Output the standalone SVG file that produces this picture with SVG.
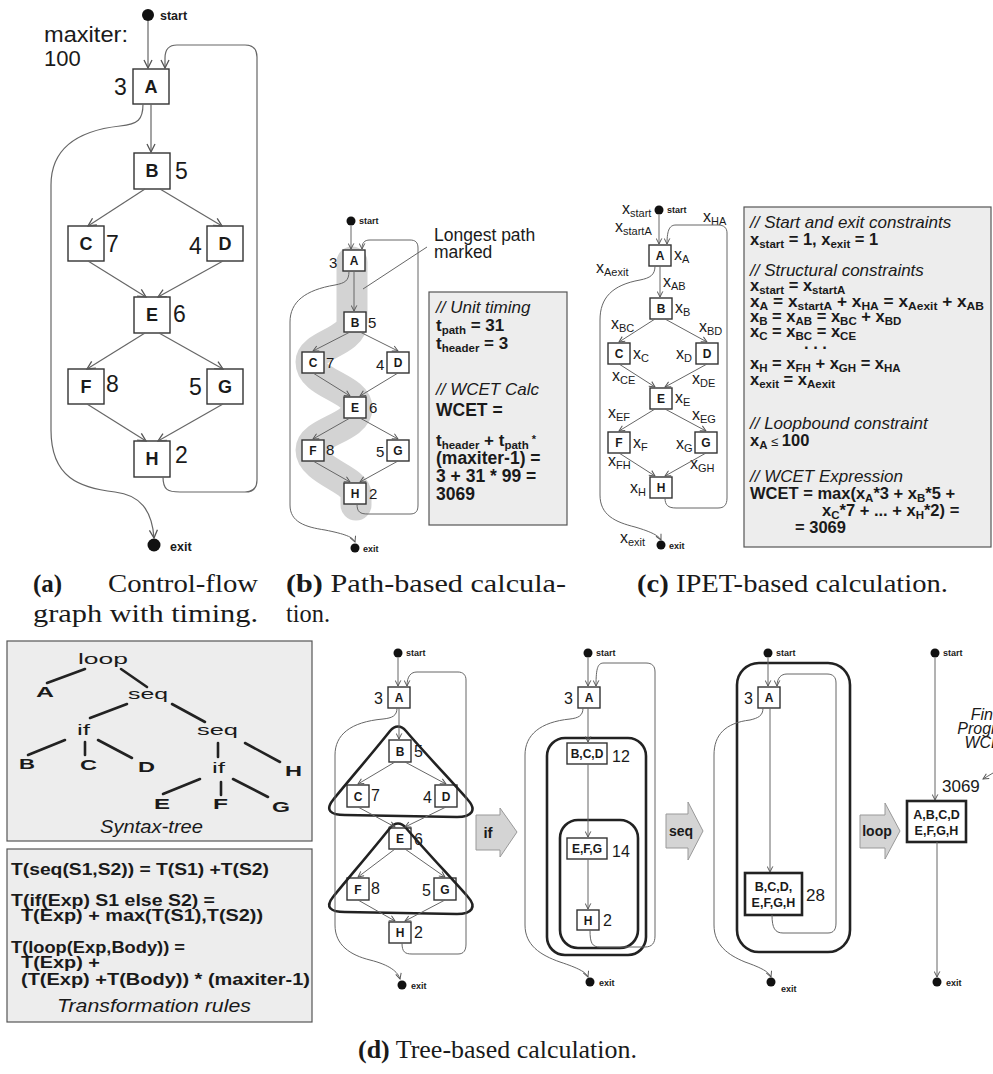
<svg xmlns="http://www.w3.org/2000/svg" width="993" height="1074" viewBox="0 0 993 1074">
<defs>
<marker id="arr" viewBox="0 0 10 10" refX="9" refY="5" markerWidth="7" markerHeight="7" orient="auto" markerUnits="userSpaceOnUse"><path d="M1,1 L9,5 L1,9" fill="none" stroke="#555" stroke-width="1.4"/></marker>
<marker id="arrL" viewBox="0 0 10 10" refX="9" refY="5" markerWidth="10" markerHeight="10" orient="auto" markerUnits="userSpaceOnUse"><path d="M1,1 L9,5 L1,9" fill="none" stroke="#555" stroke-width="1.3"/></marker>
<style>
text{font-family:"Liberation Sans",Arial,sans-serif;fill:#1a1a1a}
.box{fill:#fff;stroke:#333;stroke-width:1.4}
.tbox{fill:#fff;stroke:#222;stroke-width:2.6}
.c{fill:none;stroke:#666;stroke-width:1}
.ca{fill:none;stroke:#666;stroke-width:1;marker-end:url(#arr)}
.cL{fill:none;stroke:#666;stroke-width:1.2;marker-end:url(#arrL)}
.dot{fill:#111}
.panel{fill:#ededed;stroke:#555;stroke-width:1.2}
.hull{fill:none;stroke:#222;stroke-width:2.6}
.big{fill:#d4d4d4;stroke:#999;stroke-width:1}
.nb{font-weight:bold;text-anchor:middle}
.b{font-weight:bold}
.it{font-style:italic}
.se{font-weight:bold;font-size:9px}
.cap{font-family:"Liberation Serif","Times New Roman",serif;font-size:25px}
</style>
</defs>

<!-- Panel (a) -->
<g id="panel-a">
<text x="44" y="42" font-size="22" textLength="84" lengthAdjust="spacingAndGlyphs">maxiter:</text>
<text x="44" y="66" font-size="22">100</text>
<g id="a-start"><circle class="dot" cx="148" cy="15" r="6"/><text x="160" y="20" font-size="12.5" class="b">start</text></g>
<g id="a-exit"><circle class="dot" cx="154" cy="545" r="6.5"/><text x="170" y="551" font-size="12.5" class="b">exit</text></g>
<g id="a-A"><rect class="box" x="133" y="69" width="36" height="35"/><text class="nb" x="151" y="93" font-size="18">A</text><text x="114" y="95" font-size="23">3</text></g>
<g id="a-B"><rect class="box" x="134" y="153" width="36" height="36"/><text class="nb" x="152" y="177" font-size="18">B</text><text x="175" y="179" font-size="23">5</text></g>
<g id="a-C"><rect class="box" x="68" y="226" width="36" height="35"/><text class="nb" x="86" y="250" font-size="18">C</text><text x="106" y="252" font-size="23">7</text></g>
<g id="a-D"><rect class="box" x="207" y="226" width="36" height="35"/><text class="nb" x="225" y="250" font-size="18">D</text><text x="189" y="254" font-size="23">4</text></g>
<g id="a-E"><rect class="box" x="134" y="297" width="36" height="36"/><text class="nb" x="152" y="321" font-size="18">E</text><text x="173" y="322" font-size="23">6</text></g>
<g id="a-F"><rect class="box" x="68" y="369" width="36" height="35"/><text class="nb" x="86" y="393" font-size="18">F</text><text x="106" y="392" font-size="23">8</text></g>
<g id="a-G"><rect class="box" x="207" y="369" width="36" height="35"/><text class="nb" x="225" y="393" font-size="18">G</text><text x="189" y="395" font-size="23">5</text></g>
<g id="a-H"><rect class="box" x="134" y="441" width="36" height="36"/><text class="nb" x="152" y="465" font-size="18">H</text><text x="175" y="463" font-size="23">2</text></g>
</g>

<!-- Panel (b) -->
<g id="panel-b">
<path id="b-longest" d="M352,262 L352,322 C352,342 311,345 311,362 C311,384 357,388 357,408 C357,428 311,432 311,450 C311,470 356,480 356,494 L356,505" fill="none" stroke="#d3d3d3" stroke-width="31" stroke-linecap="round" stroke-linejoin="round"/>
<g id="b-start"><circle class="dot" cx="351" cy="221" r="4.5"/><text x="359" y="224" class="se">start</text></g>
<g id="b-exit"><circle class="dot" cx="355" cy="548" r="4.5"/><text x="363" y="552" class="se">exit</text></g>
<g id="b-A"><rect class="box" x="343" y="250" width="22" height="21"/><text class="nb" x="354" y="265" font-size="12">A</text><text x="329" y="268" font-size="15">3</text></g>
<g id="b-B"><rect class="box" x="344" y="312" width="22" height="20"/><text class="nb" x="355" y="327" font-size="12">B</text><text x="368" y="328" font-size="15">5</text></g>
<g id="b-C"><rect class="box" x="302" y="352" width="22" height="21"/><text class="nb" x="313" y="367" font-size="12">C</text><text x="326" y="368" font-size="15">7</text></g>
<g id="b-D"><rect class="box" x="387" y="352" width="22" height="21"/><text class="nb" x="398" y="367" font-size="12">D</text><text x="376" y="370" font-size="15">4</text></g>
<g id="b-E"><rect class="box" x="344" y="397" width="22" height="21"/><text class="nb" x="355" y="412" font-size="12">E</text><text x="369" y="413" font-size="15">6</text></g>
<g id="b-F"><rect class="box" x="302" y="440" width="22" height="21"/><text class="nb" x="313" y="455" font-size="12">F</text><text x="326" y="455" font-size="15">8</text></g>
<g id="b-G"><rect class="box" x="387" y="440" width="22" height="21"/><text class="nb" x="398" y="455" font-size="12">G</text><text x="376" y="457" font-size="15">5</text></g>
<g id="b-H"><rect class="box" x="344" y="483" width="22" height="21"/><text class="nb" x="355" y="498" font-size="12">H</text><text x="369" y="499" font-size="15">2</text></g>
<g id="b-note"><text x="434" y="241" font-size="17.5">Longest path</text><text x="434" y="258" font-size="17.5">marked</text></g>
<g id="b-calc">
<rect class="panel" x="429" y="292" width="138" height="233"/>
<text x="436" y="313" font-size="17" class="it">// Unit timing</text>
<text x="436" y="331" font-size="17" class="b">t<tspan font-size="11.5" dy="3">path</tspan><tspan dy="-3"> = 31</tspan></text>
<text x="436" y="349" font-size="17" class="b">t<tspan font-size="11.5" dy="3">header</tspan><tspan dy="-3"> = 3</tspan></text>
<text x="436" y="395" font-size="17" class="it">// WCET Calc</text>
<text x="436" y="416" font-size="17.5" class="b">WCET =</text>
<text x="436" y="446" font-size="17" class="b">t<tspan font-size="11.5" dy="3">header</tspan><tspan dy="-3"> + t</tspan><tspan font-size="11.5" dy="3">path</tspan><tspan dy="-6" font-size="11"> *</tspan></text>
<text x="436" y="464" font-size="17.5" class="b">(maxiter-1) =</text>
<text x="436" y="482" font-size="17.5" class="b">3 + 31 * 99 =</text>
<text x="436" y="500" font-size="17.5" class="b">3069</text>
</g>
</g>

<!-- Panel (c) -->
<g id="panel-c">
<g id="c-start"><circle class="dot" cx="659" cy="210" r="4.5"/><text x="667" y="213" class="se">start</text></g>
<g id="c-exit"><circle class="dot" cx="661" cy="545" r="4.5"/><text x="669" y="549" class="se">exit</text></g>
<g id="c-A"><rect class="box" x="649" y="245" width="22" height="21"/><text class="nb" x="660" y="260" font-size="12">A</text></g>
<g id="c-B"><rect class="box" x="650" y="298" width="22" height="21"/><text class="nb" x="661" y="313" font-size="12">B</text></g>
<g id="c-C"><rect class="box" x="608" y="343" width="22" height="21"/><text class="nb" x="619" y="358" font-size="12">C</text></g>
<g id="c-D"><rect class="box" x="696" y="343" width="22" height="21"/><text class="nb" x="707" y="358" font-size="12">D</text></g>
<g id="c-E"><rect class="box" x="650" y="388" width="22" height="21"/><text class="nb" x="661" y="403" font-size="12">E</text></g>
<g id="c-F"><rect class="box" x="608" y="432" width="22" height="21"/><text class="nb" x="619" y="447" font-size="12">F</text></g>
<g id="c-G"><rect class="box" x="695" y="432" width="22" height="21"/><text class="nb" x="706" y="447" font-size="12">G</text></g>
<g id="c-H"><rect class="box" x="650" y="477" width="22" height="21"/><text class="nb" x="661" y="492" font-size="12">H</text></g>
<g id="c-vars" font-size="16">
<text x="622" y="214">x<tspan font-size="11" dy="3">start</tspan></text>
<text x="615" y="232">x<tspan font-size="11" dy="3">startA</tspan></text>
<text x="703" y="222">x<tspan font-size="11" dy="3">HA</tspan></text>
<text x="674" y="260">x<tspan font-size="11" dy="3">A</tspan></text>
<text x="596" y="273">x<tspan font-size="11" dy="3">Aexit</tspan></text>
<text x="663" y="287">x<tspan font-size="11" dy="3">AB</tspan></text>
<text x="675" y="313">x<tspan font-size="11" dy="3">B</tspan></text>
<text x="611" y="329">x<tspan font-size="11" dy="3">BC</tspan></text>
<text x="699" y="332">x<tspan font-size="11" dy="3">BD</tspan></text>
<text x="633" y="359">x<tspan font-size="11" dy="3">C</tspan></text>
<text x="676" y="359">x<tspan font-size="11" dy="3">D</tspan></text>
<text x="612" y="381">x<tspan font-size="11" dy="3">CE</tspan></text>
<text x="692" y="384">x<tspan font-size="11" dy="3">DE</tspan></text>
<text x="675" y="403">x<tspan font-size="11" dy="3">E</tspan></text>
<text x="608" y="418">x<tspan font-size="11" dy="3">EF</tspan></text>
<text x="692" y="420">x<tspan font-size="11" dy="3">EG</tspan></text>
<text x="633" y="448">x<tspan font-size="11" dy="3">F</tspan></text>
<text x="676" y="449">x<tspan font-size="11" dy="3">G</tspan></text>
<text x="608" y="466">x<tspan font-size="11" dy="3">FH</tspan></text>
<text x="690" y="469">x<tspan font-size="11" dy="3">GH</tspan></text>
<text x="630" y="493">x<tspan font-size="11" dy="3">H</tspan></text>
<text x="620" y="543">x<tspan font-size="11" dy="3">exit</tspan></text>
</g>
<g id="c-ilp" font-size="16.5">
<rect class="panel" x="744" y="207" width="247" height="340"/>
<text x="750" y="228" class="it" font-size="17">// Start and exit constraints</text>
<text x="750" y="245" class="b">x<tspan font-size="11.5" dy="3">start</tspan><tspan dy="-3"> = 1, x</tspan><tspan font-size="11.5" dy="3">exit</tspan><tspan dy="-3"> = 1</tspan></text>
<text x="750" y="276" class="it" font-size="17">// Structural constraints</text>
<text x="750" y="291" class="b">x<tspan font-size="11.5" dy="3">start</tspan><tspan dy="-3"> = x</tspan><tspan font-size="11.5" dy="3">startA</tspan></text>
<text x="750" y="307" class="b" textLength="234" lengthAdjust="spacingAndGlyphs">x<tspan font-size="11.5" dy="3">A</tspan><tspan dy="-3"> = x</tspan><tspan font-size="11.5" dy="3">startA</tspan><tspan dy="-3"> + x</tspan><tspan font-size="11.5" dy="3">HA</tspan><tspan dy="-3"> = x</tspan><tspan font-size="11.5" dy="3">Aexit</tspan><tspan dy="-3"> + x</tspan><tspan font-size="11.5" dy="3">AB</tspan></text>
<text x="750" y="322" class="b">x<tspan font-size="11.5" dy="3">B</tspan><tspan dy="-3"> = x</tspan><tspan font-size="11.5" dy="3">AB</tspan><tspan dy="-3"> = x</tspan><tspan font-size="11.5" dy="3">BC</tspan><tspan dy="-3"> + x</tspan><tspan font-size="11.5" dy="3">BD</tspan></text>
<text x="750" y="337" class="b">x<tspan font-size="11.5" dy="3">C</tspan><tspan dy="-3"> = x</tspan><tspan font-size="11.5" dy="3">BC</tspan><tspan dy="-3"> = x</tspan><tspan font-size="11.5" dy="3">CE</tspan></text>
<text x="804" y="349" class="b">. . .</text>
<text x="750" y="369" class="b">x<tspan font-size="11.5" dy="3">H</tspan><tspan dy="-3"> = x</tspan><tspan font-size="11.5" dy="3">FH</tspan><tspan dy="-3"> + x</tspan><tspan font-size="11.5" dy="3">GH</tspan><tspan dy="-3"> = x</tspan><tspan font-size="11.5" dy="3">HA</tspan></text>
<text x="750" y="385" class="b">x<tspan font-size="11.5" dy="3">exit</tspan><tspan dy="-3"> = x</tspan><tspan font-size="11.5" dy="3">Aexit</tspan></text>
<text x="750" y="429" class="it" font-size="17">// Loopbound constraint</text>
<text x="750" y="446" class="b">x<tspan font-size="11.5" dy="3">A</tspan><tspan dy="-3" font-size="13" font-weight="normal"> ≤ </tspan><tspan>100</tspan></text>
<text x="750" y="482" class="it" font-size="17">// WCET Expression</text>
<text x="750" y="499" class="b">WCET = max(x<tspan font-size="11.5" dy="3">A</tspan><tspan dy="-3">*3 + x</tspan><tspan font-size="11.5" dy="3">B</tspan><tspan dy="-3">*5 +</tspan></text>
<text x="822" y="516" class="b">x<tspan font-size="11.5" dy="3">C</tspan><tspan dy="-3">*7 + ... + x</tspan><tspan font-size="11.5" dy="3">H</tspan><tspan dy="-3">*2) =</tspan></text>
<text x="795" y="533" class="b">= 3069</text>
</g>
</g>

<!-- Captions -->
<g id="captions">
<text class="cap" x="33" y="592"><tspan font-weight="bold">(a)</tspan></text>
<text class="cap" x="108" y="592" textLength="150" lengthAdjust="spacingAndGlyphs">Control-flow</text>
<text class="cap" x="33" y="622" textLength="225" lengthAdjust="spacingAndGlyphs">graph with timing.</text>
<text class="cap" x="286" y="592" textLength="280" lengthAdjust="spacingAndGlyphs"><tspan font-weight="bold">(b)</tspan> Path-based  calcula-</text>
<text class="cap" x="286" y="622" textLength="44" lengthAdjust="spacingAndGlyphs">tion.</text>
<text class="cap" x="637" y="592" textLength="311" lengthAdjust="spacingAndGlyphs"><tspan font-weight="bold">(c)</tspan> IPET-based calculation.</text>
<text class="cap" x="358" y="1058" textLength="279" lengthAdjust="spacingAndGlyphs"><tspan font-weight="bold">(d)</tspan> Tree-based calculation.</text>
</g>

<!-- Syntax tree -->
<g id="syntax-tree">
<rect class="panel" x="7" y="641" width="305" height="200"/>
<g stroke="#222" stroke-width="2.6" stroke-linecap="round">
<line x1="85" y1="669" x2="47" y2="683"/>
<line x1="121" y1="669" x2="147" y2="687"/>
<line x1="127" y1="704" x2="90" y2="718"/>
<line x1="172" y1="704" x2="205" y2="722"/>
<line x1="65" y1="740" x2="28" y2="755"/>
<line x1="85" y1="742" x2="85" y2="755"/>
<line x1="98" y1="740" x2="132" y2="758"/>
<line x1="218" y1="743" x2="218" y2="757"/>
<line x1="245" y1="743" x2="280" y2="762"/>
<line x1="200" y1="779" x2="163" y2="794"/>
<line x1="221" y1="782" x2="221" y2="795"/>
<line x1="233" y1="779" x2="268" y2="797"/>
</g>
<g font-size="15.5">
<text x="78" y="664" textLength="50" lengthAdjust="spacingAndGlyphs">loop</text>
<text x="36" y="697" class="b" textLength="18" lengthAdjust="spacingAndGlyphs">A</text>
<text x="128" y="699" textLength="40" lengthAdjust="spacingAndGlyphs">seq</text>
<text x="77" y="735" textLength="13" lengthAdjust="spacingAndGlyphs">if</text>
<text x="197" y="735" textLength="41" lengthAdjust="spacingAndGlyphs">seq</text>
<text x="19" y="769" class="b" textLength="16" lengthAdjust="spacingAndGlyphs">B</text>
<text x="80" y="770" class="b" textLength="17" lengthAdjust="spacingAndGlyphs">C</text>
<text x="138" y="772" class="b" textLength="17" lengthAdjust="spacingAndGlyphs">D</text>
<text x="212" y="773" textLength="13" lengthAdjust="spacingAndGlyphs">if</text>
<text x="285" y="776" class="b" textLength="17" lengthAdjust="spacingAndGlyphs">H</text>
<text x="154" y="809" class="b" textLength="16" lengthAdjust="spacingAndGlyphs">E</text>
<text x="213" y="809" class="b" textLength="15" lengthAdjust="spacingAndGlyphs">F</text>
<text x="272" y="812" class="b" textLength="18" lengthAdjust="spacingAndGlyphs">G</text>
</g>
<text x="100" y="833" font-size="17.5" class="it" textLength="103" lengthAdjust="spacingAndGlyphs">Syntax-tree</text>
</g>

<!-- Transformation rules -->
<g id="rules" font-size="16.5">
<rect class="panel" x="7" y="849" width="305" height="173"/>
<text x="11" y="875" class="b" textLength="258" lengthAdjust="spacingAndGlyphs">T(seq(S1,S2)) = T(S1) +T(S2)</text>
<text x="11" y="906" class="b" textLength="204" lengthAdjust="spacingAndGlyphs">T(if(Exp) S1 else S2) =</text>
<text x="21" y="921" class="b" textLength="242" lengthAdjust="spacingAndGlyphs">T(Exp) + max(T(S1),T(S2))</text>
<text x="11" y="953" class="b" textLength="174" lengthAdjust="spacingAndGlyphs">T(loop(Exp,Body)) =</text>
<text x="21" y="968" class="b" textLength="79" lengthAdjust="spacingAndGlyphs">T(Exp) +</text>
<text x="21" y="985" class="b" textLength="289" lengthAdjust="spacingAndGlyphs">(T(Exp) +T(Body)) * (maxiter-1)</text>
<text x="57" y="1012" class="it" font-size="18" textLength="194" lengthAdjust="spacingAndGlyphs">Transformation rules</text>
</g>

<!-- Panel (d) step 1 -->
<g id="panel-d1">
<g id="d1-start"><circle class="dot" cx="398" cy="653" r="4.5"/><text x="406" y="656" class="se">start</text></g>
<g id="d1-exit"><circle class="dot" cx="402" cy="985" r="4.5"/><text x="411" y="989" class="se">exit</text></g>
<g id="d1-A"><rect class="box" x="388" y="687" width="22" height="21"/><text class="nb" x="399" y="702" font-size="12">A</text><text x="374" y="704" font-size="16">3</text></g>
<g id="d1-B"><rect class="box" x="389" y="740" width="22" height="22"/><text class="nb" x="400" y="756" font-size="12">B</text><text x="414" y="757" font-size="16">5</text></g>
<g id="d1-C"><rect class="box" x="347" y="785" width="22" height="22"/><text class="nb" x="358" y="801" font-size="12">C</text><text x="371" y="801" font-size="16">7</text></g>
<g id="d1-D"><rect class="box" x="435" y="785" width="22" height="22"/><text class="nb" x="446" y="801" font-size="12">D</text><text x="423" y="803" font-size="16">4</text></g>
<g id="d1-E"><rect class="box" x="389" y="828" width="22" height="21"/><text class="nb" x="400" y="843" font-size="12">E</text><text x="414" y="845" font-size="16">6</text></g>
<g id="d1-F"><rect class="box" x="347" y="878" width="22" height="22"/><text class="nb" x="358" y="894" font-size="12">F</text><text x="371" y="894" font-size="16">8</text></g>
<g id="d1-G"><rect class="box" x="434" y="878" width="22" height="22"/><text class="nb" x="445" y="894" font-size="12">G</text><text x="422" y="896" font-size="16">5</text></g>
<g id="d1-H"><rect class="box" x="389" y="922" width="22" height="21"/><text class="nb" x="400" y="937" font-size="12">H</text><text x="414" y="938" font-size="16">2</text></g>
<path id="d1-if1" class="hull" d="M390,731 C375,750 345,785 333,800 C325,810 330,815 345,815 L457,817 C472,817 477,810 468,800 C455,785 422,750 406,731 C401,725 395,725 390,731 Z"/>
<path id="d1-if2" class="hull" d="M390,828 C375,847 345,882 333,897 C325,907 330,912 345,912 L457,914 C472,914 477,907 468,897 C455,882 422,847 406,828 C401,822 395,822 390,828 Z"/>
<g id="step-if"><polygon class="big" points="476,815 500,815 500,808 517,832 500,857 500,850 476,850"/><text x="488" y="838" class="nb" font-size="15">if</text></g>
</g>

<!-- Panel (d) step 2 -->
<g id="panel-d2">
<g id="d2-start"><circle class="dot" cx="588" cy="653" r="4.5"/><text x="596" y="656" class="se">start</text></g>
<g id="d2-exit"><circle class="dot" cx="590" cy="982" r="4.5"/><text x="599" y="986" class="se">exit</text></g>
<g id="d2-A"><rect class="box" x="578" y="687" width="22" height="21"/><text class="nb" x="589" y="702" font-size="12">A</text><text x="564" y="704" font-size="16">3</text></g>
<g id="d2-BCD"><rect class="box" x="567" y="743" width="40" height="21"/><text class="nb" x="587" y="758" font-size="12">B,C,D</text><text x="612" y="762" font-size="16">12</text></g>
<g id="d2-EFG"><rect class="box" x="567" y="838" width="40" height="21"/><text class="nb" x="587" y="853" font-size="12">E,F,G</text><text x="612" y="857" font-size="16">14</text></g>
<g id="d2-H"><rect class="box" x="577" y="910" width="22" height="20"/><text class="nb" x="588" y="925" font-size="12">H</text><text x="603" y="926" font-size="16">2</text></g>
<rect id="d2-seq1" class="hull" x="547" y="738" width="99" height="217" rx="18"/>
<rect id="d2-seq2" class="hull" x="560" y="820" width="78" height="128" rx="18"/>
<g id="step-seq"><polygon class="big" points="666,814 688,814 688,802 703,831 688,860 688,848 666,848"/><text x="681" y="836" class="nb" font-size="14">seq</text></g>
</g>

<!-- Panel (d) step 3 -->
<g id="panel-d3">
<g id="d3-start"><circle class="dot" cx="768" cy="653" r="4.5"/><text x="776" y="656" class="se">start</text></g>
<g id="d3-exit"><circle class="dot" cx="771" cy="982" r="4.5"/><text x="781" y="992" class="se">exit</text></g>
<g id="d3-A"><rect class="box" x="758" y="687" width="22" height="21"/><text class="nb" x="769" y="702" font-size="12">A</text><text x="744" y="704" font-size="16">3</text></g>
<g id="d3-BH"><rect class="tbox" x="745" y="873" width="57" height="42"/><text class="nb" x="773.5" y="891" font-size="12.5">B,C,D,</text><text class="nb" x="773.5" y="907" font-size="12.5">E,F,G,H</text><text x="806" y="901" font-size="17">28</text></g>
<rect id="d3-loop" class="hull" x="737" y="663" width="113" height="289" rx="22"/>
<g id="step-loop"><polygon class="big" points="860,815 885,815 885,803 900,831 885,859 885,848 860,848"/><text x="877" y="836" class="nb" font-size="14">loop</text></g>
</g>

<!-- Panel (d) step 4 -->
<g id="panel-d4">
<g id="d4-start"><circle class="dot" cx="935" cy="653" r="4.5"/><text x="943" y="656" class="se">start</text></g>
<g id="d4-exit"><circle class="dot" cx="937" cy="982" r="4.5"/><text x="946" y="986" class="se">exit</text></g>
<g id="d4-all"><rect class="tbox" x="907" y="801" width="59" height="41"/><text class="nb" x="936.5" y="819" font-size="12.5">A,B,C,D</text><text class="nb" x="936.5" y="835" font-size="12.5">E,F,G,H</text></g>
<text x="942" y="792" font-size="17">3069</text>
<g id="d4-note" class="it" font-size="16" text-anchor="middle"><text x="988" y="720">Final</text><text x="988" y="734">Program</text><text x="988" y="748">WCET</text></g>
</g>

<!-- Connectors -->
<g id="connectors">
<g id="edges-a">
<path class="cL" d="M148,21 L148,68"/>
<path class="cL" d="M151,104 L151,152"/>
<path class="cL" d="M145,189 L88,226"/>
<path class="cL" d="M160,189 L222,226"/>
<path class="cL" d="M88,261 L146,297"/>
<path class="cL" d="M223,261 L158,297"/>
<path class="cL" d="M145,333 L87,369"/>
<path class="cL" d="M159,333 L223,369"/>
<path class="cL" d="M87,404 L146,441"/>
<path class="cL" d="M223,404 L158,441"/>
<path class="cL" d="M143,104 C143,120 138,124 120,126 C75,131 51,150 51,185 L51,430 C51,478 80,488 115,492 C140,495 152,510 154,538"/>
<path class="cL" d="M163,477 C163,490 168,492 180,492 L245,492 C253,492 257,488 257,480 L257,57 C257,49 253,45 245,45 L177,45 C169,45 165,50 165,58 L165,68"/>
</g>
<g id="edges-b">
<path class="ca" d="M351,226 L351,249"/>
<path class="ca" d="M354,271 L354,311"/>
<path class="ca" d="M350,332 L313,351"/>
<path class="ca" d="M360,332 L398,351"/>
<path class="ca" d="M313,373 L350,396"/>
<path class="ca" d="M398,373 L360,396"/>
<path class="ca" d="M350,418 L313,439"/>
<path class="ca" d="M360,418 L398,439"/>
<path class="ca" d="M313,461 L350,482"/>
<path class="ca" d="M398,461 L360,482"/>
<path class="ca" d="M349,271 C349,281 345,283 335,285 C305,290 290,302 290,322 L290,505 C290,522 305,527 325,530 C345,534 353,537 355,542"/>
<path class="ca" d="M357,504 C357,512 360,514 368,514 L410,514 C416,514 418,511 418,505 L418,248 C418,242 415,240 410,240 L370,240 C364,240 362,243 362,249"/>
<path class="c" d="M427,247 L363,289"/>
</g>
<g id="edges-c">
<path class="ca" d="M659,215 L659,244"/>
<path class="ca" d="M660,266 L660,297"/>
<path class="ca" d="M655,319 L619,342"/>
<path class="ca" d="M665,319 L707,342"/>
<path class="ca" d="M619,364 L655,387"/>
<path class="ca" d="M707,364 L665,387"/>
<path class="ca" d="M655,409 L619,431"/>
<path class="ca" d="M665,409 L706,431"/>
<path class="ca" d="M619,453 L655,476"/>
<path class="ca" d="M706,453 L665,476"/>
<path class="ca" d="M655,266 C655,275 650,278 640,280 C612,285 600,298 600,320 L600,495 C600,515 615,522 635,527 C652,532 659,536 661,540"/>
<path class="ca" d="M665,498 C665,505 668,508 676,508 L718,508 C724,508 727,505 727,498 L727,233 C727,228 724,225 718,225 L676,225 C670,225 667,229 667,244"/>
</g>
<g id="edges-d1">
<path class="ca" d="M398,658 L398,686"/>
<path class="ca" d="M399,708 L399,739"/>
<path class="ca" d="M395,762 L358,784"/>
<path class="ca" d="M405,762 L446,784"/>
<path class="ca" d="M358,807 L395,827"/>
<path class="ca" d="M446,807 L405,827"/>
<path class="ca" d="M395,849 L358,877"/>
<path class="ca" d="M405,849 L445,877"/>
<path class="ca" d="M358,900 L395,921"/>
<path class="ca" d="M445,900 L405,921"/>
<path class="ca" d="M397,708 C397,716 392,718 383,719 C350,722 335,735 335,755 L335,925 C335,945 350,955 370,960 C390,965 398,972 400,979"/>
<path class="ca" d="M402,943 C402,952 405,954 412,954 L458,954 C464,954 466,950 466,944 L466,680 C466,675 463,672 458,672 L417,672 C411,672 407,676 407,686"/>
</g>
<g id="edges-d2">
<path class="ca" d="M588,658 L588,686"/>
<path class="ca" d="M588,708 L588,742"/>
<path class="ca" d="M588,764 L588,837"/>
<path class="ca" d="M588,859 L588,909"/>
<path class="ca" d="M583,708 C583,716 578,718 570,719 C540,722 525,735 525,755 L525,925 C525,945 540,955 560,962 C578,968 586,972 588,977"/>
<path class="ca" d="M590,930 C590,943 592,947 600,947 L645,947 C652,947 655,943 655,936 L655,672 C655,666 652,663 646,663 L604,663 C598,663 596,667 596,686"/>
</g>
<g id="edges-d3">
<path class="ca" d="M768,658 L768,686"/>
<path class="ca" d="M770,708 L770,872"/>
<path class="ca" d="M763,708 C763,716 758,718 750,720 C725,723 714,735 714,755 L714,925 C714,945 728,955 745,962 C762,968 769,972 771,977"/>
<path class="ca" d="M772,915 C772,928 775,933 783,933 L828,933 C834,933 836,929 836,923 L836,683 C836,677 833,674 827,674 L787,674 C781,674 777,678 777,686"/>
</g>
<g id="edges-d4">
<path class="ca" d="M935,658 L935,800"/>
<path class="ca" d="M937,842 L937,977"/>
<path class="ca" d="M998,770 L983,779"/>
</g>
</g>
</svg>
